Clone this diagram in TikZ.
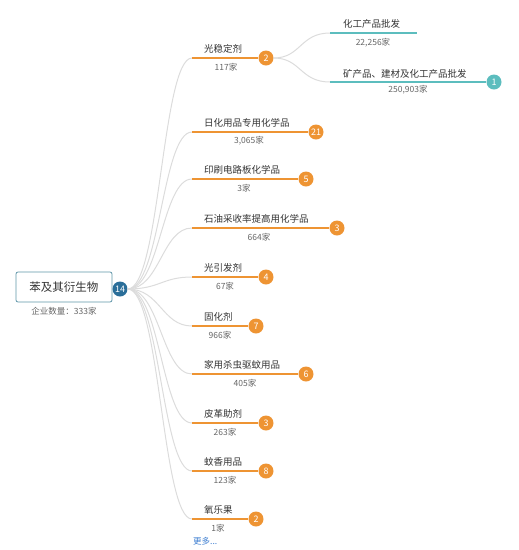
\documentclass[tikz,border=0pt]{standalone}
\usepackage{fontspec}
\setmainfont{Noto Sans CJK SC}
\usetikzlibrary{positioning}
\definecolor{barorange}{HTML}{EE9433}
\definecolor{barteal}{HTML}{5CBDBE}
\definecolor{rootblue}{HTML}{2A6E99}
\definecolor{boxline}{HTML}{5E95A8}
\definecolor{twiggray}{HTML}{DCDCDC}
\definecolor{txtdark}{HTML}{333333}
\definecolor{txtgray}{HTML}{666666}
\definecolor{morelink}{HTML}{3C7DD0}
\begin{document}
\begin{tikzpicture}[x=1pt,y=-1pt,
  badge/.style={circle,fill=barorange,text=white,inner sep=0pt,minimum size=15pt,font=\fontsize{9}{9}\selectfont},
  lbl/.style={anchor=base west,inner sep=0pt,text=txtdark,font=\fontsize{9.5}{10}\selectfont},
  cnt/.style={inner sep=0pt,text=txtgray,font=\fontsize{8.5}{9}\selectfont},
  twig/.style={twiggray,line width=1pt},
  bar/.style={barorange,line width=1.3pt}]

\useasboundingbox (0,0) rectangle (519,550);

% root
\node[draw=boxline,rounded corners=2pt,line width=0.8pt,minimum width=96pt,minimum height=30pt,
  text=txtdark,font=\fontsize{11.5}{12}\selectfont] (root) at (64,287) {苯及其衍生物};
\node[cnt] (rootcnt) at (64,311) {企业数量：333家};
\node[badge,fill=rootblue] (b0) at (120,289) {14};

% 光稳定剂
\coordinate (s1) at (192,58);
\draw[twig] (b0) .. controls +(40,0) and +(-30,0) .. (s1);
\node[badge] (b1) at (266,58) {2};
\draw[bar] (s1) -- (b1);
\node[lbl] (t1) at (204,52.5) {光稳定剂};
\node[cnt] (c1) at (226,67) {117家};

% second level
\coordinate (s11) at (330,33);
\coordinate (e11) at (417,33);
\draw[twig] (b1) .. controls +(35,0) and +(-30,0) .. (s11);
\draw[barteal,line width=1.3pt] (s11) -- (e11);
\node[lbl] (t11) at (343,27.5) {化工产品批发};
\node[cnt] (c11) at (373,43) {22,256家};

\coordinate (s12) at (330,82);
\draw[twig] (b1) .. controls +(35,0) and +(-30,0) .. (s12);
\node[badge,fill=barteal] (b12) at (494,82) {1};
\draw[barteal,line width=1.3pt] (s12) -- (b12);
\node[lbl] (t12) at (343,77.5) {矿产品、建材及化工产品批发};
\node[cnt] (c12) at (408,90) {250,903家};

% 日化用品专用化学品
\coordinate (s2) at (192,132);
\draw[twig] (b0) .. controls +(40,0) and +(-30,0) .. (s2);
\node[badge] (b2) at (316,132) {21};
\draw[bar] (s2) -- (b2);
\node[lbl] (t2) at (204,126.5) {日化用品专用化学品};
\node[cnt] (c2) at (249,141) {3,065家};

% 印刷电路板化学品
\coordinate (s3) at (192,179);
\draw[twig] (b0) .. controls +(40,0) and +(-30,0) .. (s3);
\node[badge] (b3) at (306,179) {5};
\draw[bar] (s3) -- (b3);
\node[lbl] (t3) at (204,173.5) {印刷电路板化学品};
\node[cnt] (c3) at (244,188) {3家};

% 石油采收率提高用化学品
\coordinate (s4) at (192,228);
\draw[twig] (b0) .. controls +(40,0) and +(-30,0) .. (s4);
\node[badge] (b4) at (337,228) {3};
\draw[bar] (s4) -- (b4);
\node[lbl] (t4) at (204,222.5) {石油采收率提高用化学品};
\node[cnt] (c4) at (259,237) {664家};

% 光引发剂
\coordinate (s5) at (192,277);
\draw[twig] (b0) .. controls +(40,0) and +(-30,0) .. (s5);
\node[badge] (b5) at (266,277) {4};
\draw[bar] (s5) -- (b5);
\node[lbl] (t5) at (204,271.5) {光引发剂};
\node[cnt] (c5) at (225,286) {67家};

% 固化剂
\coordinate (s6) at (192,326);
\draw[twig] (b0) .. controls +(40,0) and +(-30,0) .. (s6);
\node[badge] (b6) at (256,326) {7};
\draw[bar] (s6) -- (b6);
\node[lbl] (t6) at (204,320.5) {固化剂};
\node[cnt] (c6) at (220,335) {966家};

% 家用杀虫驱蚊用品
\coordinate (s7) at (192,374);
\draw[twig] (b0) .. controls +(40,0) and +(-30,0) .. (s7);
\node[badge] (b7) at (306,374) {6};
\draw[bar] (s7) -- (b7);
\node[lbl] (t7) at (204,368.5) {家用杀虫驱蚊用品};
\node[cnt] (c7) at (245,383) {405家};

% 皮革助剂
\coordinate (s8) at (192,423);
\draw[twig] (b0) .. controls +(40,0) and +(-30,0) .. (s8);
\node[badge] (b8) at (266,423) {3};
\draw[bar] (s8) -- (b8);
\node[lbl] (t8) at (204,417.5) {皮革助剂};
\node[cnt] (c8) at (225,432) {263家};

% 蚊香用品
\coordinate (s9) at (192,471);
\draw[twig] (b0) .. controls +(40,0) and +(-30,0) .. (s9);
\node[badge] (b9) at (266,471) {8};
\draw[bar] (s9) -- (b9);
\node[lbl] (t9) at (204,465.5) {蚊香用品};
\node[cnt] (c9) at (225,480) {123家};

% 氧乐果
\coordinate (s10) at (192,519);
\draw[twig] (b0) .. controls +(40,0) and +(-30,0) .. (s10);
\node[badge] (b10) at (256,519) {2};
\draw[bar] (s10) -- (b10);
\node[lbl] (t10) at (204,513.5) {氧乐果};
\node[cnt] (c10) at (218,528) {1家};

\node[cnt,text=morelink,anchor=west] (more) at (193,541) {更多...};

\end{tikzpicture}
\end{document}
